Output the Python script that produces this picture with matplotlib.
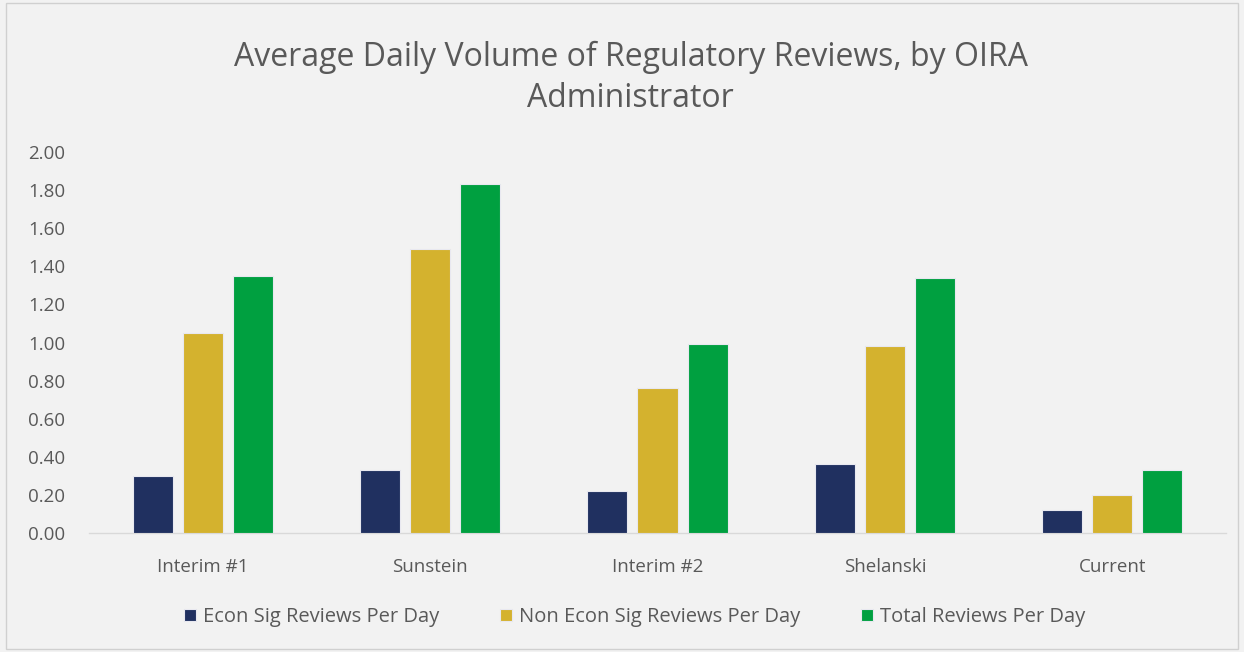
import matplotlib.pyplot as plt
import numpy as np

# data
administrators = ["Interim #1", "Sunstein", "Interim #2", "Shelanski", "Current"]
econ_sig = [0.30, 0.33, 0.22, 0.36, 0.12]
non_econ_sig = [1.05, 1.49, 0.76, 0.98, 0.20]
total_reviews = [1.35, 1.83, 0.99, 1.34, 0.33]

series_names = ["Econ Sig Reviews Per Day", "Non Econ Sig Reviews Per Day", "Total Reviews Per Day"]
colors = ["#203060", "#D4B22E", "#00A040"]

plt.rcParams['font.family'] = ['Open Sans', 'DejaVu Sans']

fig = plt.figure(figsize=(12.44, 6.52), dpi=100, facecolor="#F2F2F2")
ax = fig.add_axes([89 / 1244, 1 - 533 / 652, (1226 - 89) / 1244, (533 - 152) / 652])
ax.set_facecolor("#F2F2F2")

x = np.arange(len(administrators))
step = 0.22
width = 0.176
for i, (vals, name, col) in enumerate(zip([econ_sig, non_econ_sig, total_reviews], series_names, colors)):
    ax.bar(x + (i - 1) * step, vals, width, color=col, label=name,
           edgecolor="#E8E8F0", linewidth=0.8, zorder=3)

ax.set_xlim(-0.5, len(administrators) - 0.5)
ax.set_ylim(0, 2.0)
yt = np.arange(0, 2.01, 0.2)
ax.set_yticks(yt)
ax.set_yticklabels([f"{v:.2f}" for v in yt])
ax.set_xticks(x)
ax.set_xticklabels(administrators)
ax.tick_params(axis="both", length=0, labelsize=13.5, colors="#595959")
ax.tick_params(axis="x", pad=18)
ax.tick_params(axis="y", pad=17)
for side in ["top", "right", "left"]:
    ax.spines[side].set_visible(False)
ax.spines["bottom"].set_color("#D9D9D9")
ax.spines["bottom"].set_linewidth(1.0)

fig.text(0.507, 1 - 78 / 652, "Average Daily Volume of Regulatory Reviews, by OIRA\nAdministrator",
         ha="center", va="center", fontsize=23, color="#595959", linespacing=1.35)

leg = fig.legend(loc="center", bbox_to_anchor=(0.51, 1 - 617 / 652), ncol=3, frameon=False,
                 fontsize=14.5, handlelength=0.6, handleheight=0.6, handletextpad=0.35, columnspacing=3.0)
for t in leg.get_texts():
    t.set_color("#595959")

# thin border around the chart
fig.patches.append(plt.Rectangle((0.005, 0.005), 0.99, 0.99, transform=fig.transFigure,
                                 fill=False, edgecolor="#D0D0D0", linewidth=1))

fig.savefig("out.png", dpi=100, facecolor=fig.get_facecolor())
